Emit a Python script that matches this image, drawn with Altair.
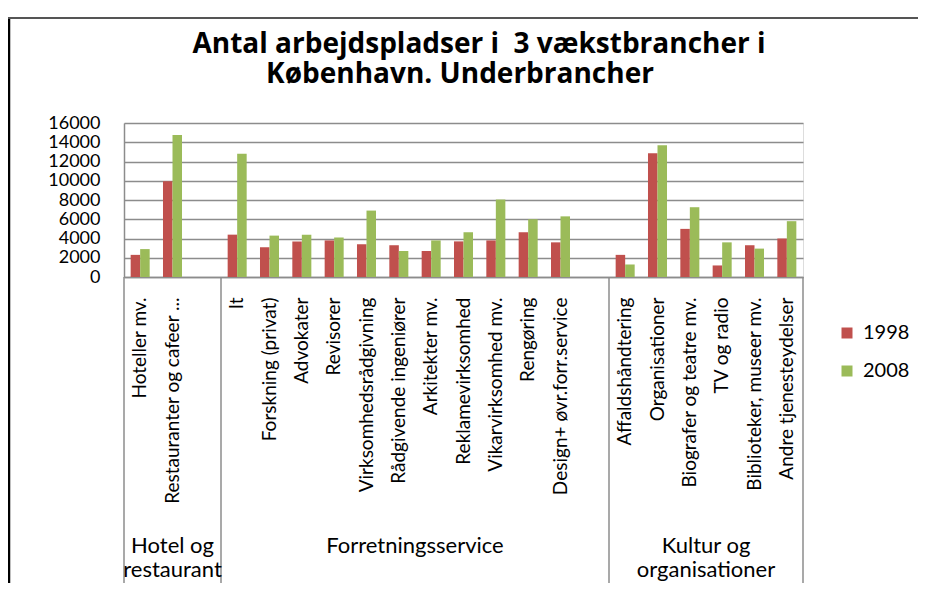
import altair as alt
import pandas as pd

# --- data ---------------------------------------------------------------
hotel_cats = ["Hoteller mv.", "Restauranter og cafeer ..."]
forr_cats = ["It", "Forskning (privat)", "Advokater", "Revisorer",
             "Virksomhedsrådgivning", "Rådgivende ingeniører", "Arkitekter mv.",
             "Reklamevirksomhed", "Vikarvirksomhed mv.", "Rengøring",
             "Design+ øvr.forr.service"]
kultur_cats = ["Affaldshåndtering", "Organisationer", "Biografer og teatre mv.",
               "TV og radio", "Biblioteker, museer mv.", "Andre tjenesteydelser"]

# blank slots separate the groups, as in the original category axis
all_slots = hotel_cats + [" "] + forr_cats + ["  "] + kultur_cats

values_1998 = [2300, 9950,
               4400, 3100, 3700, 3800, 3400, 3300, 2700, 3700, 3800, 4650, 3600,
               2300, 12850, 5000, 1200, 3300, 4000]
values_2008 = [2900, 14750,
               12800, 4300, 4400, 4100, 6900, 2700, 3800, 4650, 8050, 6000, 6300,
               1300, 13700, 7250, 3600, 2950, 5800]

years = ["1998", "2008"]
y_ticks = [0, 2000, 4000, 6000, 8000, 10000, 12000, 14000, 16000]

group_labels_mid = ["Hotel og\nrestaurant"]
group_anchor_mid = ["Restauranter og cafeer ..."]
group_labels_edge = ["Forretningsservice", "Kultur og\norganisationer"]
group_anchor_edge = ["Arkitekter mv.", "TV og radio"]

title_line1 = "Antal arbejdspladser i \u00a03 vækstbrancher i"
title_line2 = "København. Underbrancher"

# --- tables -------------------------------------------------------------
cats = hotel_cats + forr_cats + kultur_cats
rows = []
for c, a, b in zip(cats, values_1998, values_2008):
    rows.append({"cat": c, "year": "1998", "value": a})
    rows.append({"cat": c, "year": "2008", "value": b})
df = pd.DataFrame(rows)

RED = "#C0504D"
GREEN = "#9BBB59"
GRID = "#8c8c8c"
FONT = "Lato"
TFONT = "Open Sans"

xscale = alt.Scale(domain=all_slots, paddingInner=0, paddingOuter=0)


def xenc(band=0.5, axis=True):
    kw = dict(scale=xscale, title=None, bandPosition=band)
    if axis:
        kw["axis"] = alt.Axis(labelAngle=-90, labelAlign="right", labelBaseline="middle",
                              labelPadding=20, ticks=False, labelLimit=400,
                              labelFontSize=19, labelColor="#000000", labelFont=FONT,
                              domainColor=GRID, domainWidth=1.5, grid=False)
    return alt.X("cat:N", **kw)


bars = alt.Chart(df).mark_bar().encode(
    x=xenc(),
    xOffset=alt.XOffset("year:N", scale=alt.Scale(domain=years, paddingOuter=0.7, paddingInner=0)),
    y=alt.Y("value:Q", title=None,
            scale=alt.Scale(domain=[0, 16000], nice=False),
            axis=alt.Axis(values=y_ticks, format="d", ticks=False, labelPadding=24,
                          labelFontSize=18, labelColor="#000000", labelFont=FONT,
                          labelOverlap=False, domainColor=GRID, domainWidth=1.5,
                          gridColor=GRID, gridWidth=1.5)),
    color=alt.Color("year:N", title=None,
                    scale=alt.Scale(domain=years, range=[RED, GREEN]),
                    legend=alt.Legend(orient="none", legendX=713, legendY=200,
                                      symbolType="square", symbolSize=121,
                                      symbolStrokeWidth=0, labelFontSize=20,
                                      labelFont=FONT, labelColor="#000000",
                                      rowPadding=18, labelOffset=6, padding=0)),
)

sep_df = pd.DataFrame({"cat": [hotel_cats[0], forr_cats[0], kultur_cats[0]]})
sep_left = alt.Chart(sep_df).mark_rule(color=GRID, strokeWidth=1.5).encode(
    x=xenc(0, axis=False), y=alt.value(154), y2=alt.value(467))
sep_right = alt.Chart(pd.DataFrame({"cat": [kultur_cats[-1]]})).mark_rule(
    color=GRID, strokeWidth=1.5).encode(
    x=xenc(1, axis=False), y=alt.value(154), y2=alt.value(467))

grp_mid = alt.Chart(pd.DataFrame({"cat": group_anchor_mid, "lab": group_labels_mid})).mark_text(
    font=FONT, fontSize=22, lineBreak="\n", lineHeight=24, align="center",
    baseline="alphabetic", color="#000000").encode(
    x=xenc(0.5, axis=False), y=alt.value(430), text="lab:N")
grp_edge = alt.Chart(pd.DataFrame({"cat": group_anchor_edge, "lab": group_labels_edge})).mark_text(
    font=FONT, fontSize=22, lineBreak="\n", lineHeight=24, align="center",
    baseline="alphabetic", color="#000000").encode(
    x=xenc(0, axis=False), y=alt.value(430), text="lab:N")

title1 = alt.Chart(pd.DataFrame({"t": [title_line1]})).mark_text(
    font=TFONT, fontSize=28, fontWeight="bold", align="center", baseline="alphabetic",
    color="#000000").encode(x=alt.value(355), y=alt.value(-70), text="t:N")
title2 = alt.Chart(pd.DataFrame({"t": [title_line2]})).mark_text(
    font=TFONT, fontSize=28, fontWeight="bold", align="center", baseline="alphabetic",
    color="#000000").encode(x=alt.value(336), y=alt.value(-40), text="t:N")

frame_left = alt.Chart(pd.DataFrame({"k": [0]})).mark_rule(color="#000000", strokeWidth=2.5).encode(
    x=alt.value(-115), y=alt.value(-105), y2=alt.value(470))
frame_top = alt.Chart(pd.DataFrame({"k": [0]})).mark_rule(color="#555555", strokeWidth=2).encode(
    x=alt.value(-116), x2=alt.value(794), y=alt.value(-105))

chart = alt.layer(
    bars, sep_left, sep_right, grp_mid, grp_edge, title1, title2, frame_left, frame_top
).properties(
    width=679, height=154,
    autosize=alt.AutoSizeParams(type="none"),
    padding={"left": 116, "top": 115, "right": 115, "bottom": 306},
).configure_view(stroke="transparent").configure(background="#ffffff")

chart.save("out.html", embed_options={"renderer": "svg", "actions": False})
